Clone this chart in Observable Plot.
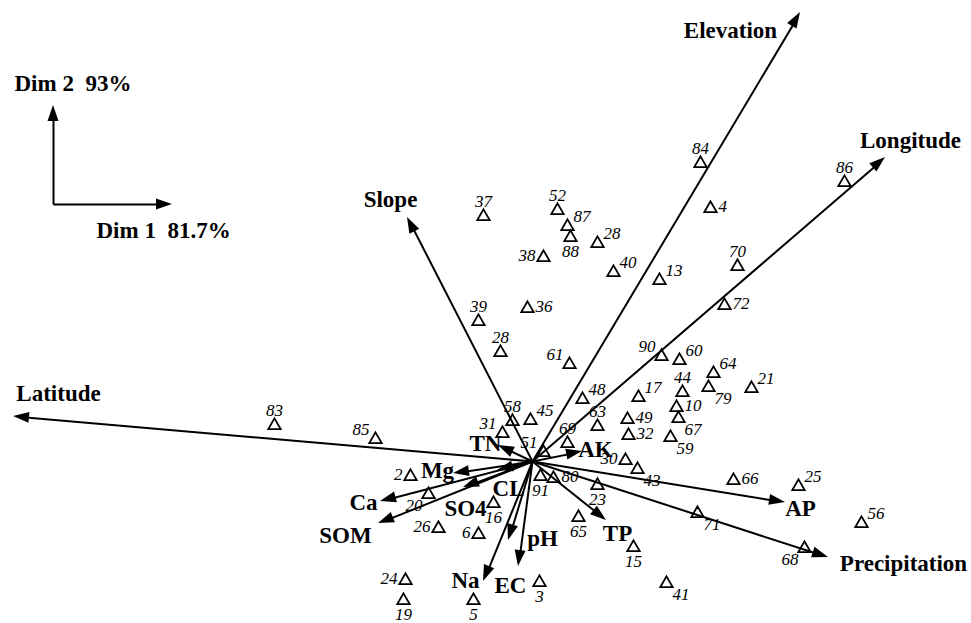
<!DOCTYPE html>
<html><head><meta charset="utf-8">
<script src="https://cdn.jsdelivr.net/npm/d3@7"></script>
<script src="https://cdn.jsdelivr.net/npm/@observablehq/plot@0.6"></script>
<style>body{margin:0;background:#fff} svg{display:block}</style>
</head><body><div id="chart"></div>
<script>
// Sample sites (scores on Dim 1 / Dim 2)
const siteIds  = ["84","4","52","87","88","28","38","40","13","70","72","36","90","60","61","64","79","21","44","17","48","10","49","67","63","32","59","69","45","58","31","51","30","43","80","91","23","66","25","56","71","68","65","15","41","3","5","19","24","26","6","16","20","2","85","83","37","39","28","86"];
const siteDim1 = [1.68,1.78,0.25,0.35,0.38,0.65,0.11,0.81,1.27,2.05,1.92,-0.05,1.29,1.47,0.37,1.81,1.76,2.19,1.50,1.06,0.50,1.44,0.95,1.46,0.65,0.96,1.38,0.35,-0.02,-0.20,-0.30,0.11,0.93,1.05,0.21,0.08,0.65,2.01,2.66,3.29,1.65,2.72,0.46,1.01,1.34,0.07,-0.59,-1.29,-1.27,-0.94,-0.54,-0.39,-1.04,-1.22,-1.57,-2.58,-0.49,-0.54,-0.32,3.12];
const siteDim2 = [2.98,2.53,2.51,2.35,2.24,2.18,2.04,1.89,1.81,1.95,1.56,1.53,1.05,1.01,0.97,0.88,0.74,0.73,0.69,0.64,0.62,0.54,0.42,0.43,0.35,0.26,0.24,0.18,0.41,0.40,0.28,0.09,0.01,-0.08,-0.17,-0.15,-0.24,-0.19,-0.25,-0.62,-0.52,-0.87,-0.56,-0.86,-1.22,-1.21,-1.39,-1.39,-1.19,-0.67,-0.73,-0.42,-0.33,-0.15,0.22,0.36,2.45,1.40,1.09,2.79];
// side of each site label relative to its triangle
const siteLabelSide = ["n","e","n","ne","s","ne","w","ne","ne","n","e","e","nw","ne","nw","ne","se","ne","n","ne","ne","e","e","se","n","e","se","n","ne","n","nw","nw","w","se","e","s","s","e","ne","ne","se","sw","s","s","se","s","s","s","w","w","w","s","sw","w","nw","n","n","n","n","n"];

// Explanatory variables (arrow tips)
const variables = ["Elevation","Longitude","Slope","Latitude","AP","Precipitation","TP","AK","TN","Mg","Ca","SOM","CL","SO4","pH","EC","Na"];
const varDim1 = [2.68,3.53,-1.25,-5.19,2.53,2.96,0.74,0.50,-0.34,-0.79,-1.52,-1.54,-0.35,-0.69,-0.24,-0.14,-0.49];
const varDim2 = [4.49,3.04,2.44,0.45,-0.41,-0.96,-0.59,0.10,0.16,-0.12,-0.40,-0.62,-0.09,-0.26,-0.79,-1.05,-1.20];
// label offsets (px) from arrow tip
const varLabelDx = [-70,25,-17,45,15,75,11,13,-13,-16,-17,-33,11,2,34,-8,-18];
const varLabelDy = [18,-17,-18,-23,6,6,13,-2,-2,-3,1,12,18,21,-2,19,-1];

const axisTitles = ["Dim 1\u00a0 81.7%", "Dim 2\u00a0 93%"];

const sites = siteIds.map((id, i) => ({id, x: siteDim1[i], y: siteDim2[i], side: siteLabelSide[i]}));
const vars = variables.map((name, i) => ({name, x0: 0, y0: 0, x1: varDim1[i], y1: varDim2[i], dx: varLabelDx[i], dy: varLabelDy[i]}));

// inset key for the dimension axes
const keyOrigin = {x: -4.79, y: 2.57};
const keyArrows = [
  {x0: keyOrigin.x, y0: keyOrigin.y, x1: -3.60, y1: keyOrigin.y},
  {x0: keyOrigin.x, y0: keyOrigin.y, x1: keyOrigin.x, y1: 3.56}
];
const keyTexts = [
  {t: axisTitles[0], x: -4.36, y: 2.31},
  {t: axisTitles[1], x: -5.18, y: 3.78}
];

const HL = 16, HW = 5.5;
function shorten(r) {
  const ux = r.x1 - r.x0, uy = r.y1 - r.y0, L = Math.hypot(ux, uy);
  const s = (L - HL * 0.6 / 100) / L;
  return {x0: r.x0, y0: r.y0, x1: r.x0 + ux * s, y1: r.y0 + uy * s};
}
function heads(rows) {
  return (index, scales) => {
    const g = d3.create("svg:g");
    for (const r of rows) {
      const x0 = scales.x(r.x0), y0 = scales.y(r.y0), x1 = scales.x(r.x1), y1 = scales.y(r.y1);
      const a = Math.atan2(y1 - y0, x1 - x0);
      const bx = x1 - HL * Math.cos(a), by = y1 - HL * Math.sin(a);
      const px = -Math.sin(a) * HW, py = Math.cos(a) * HW;
      g.append("path").attr("d", `M${x1},${y1}L${bx + px},${by + py}L${bx - px},${by - py}Z`).attr("fill", "black");
    }
    return g.node();
  };
}

const serif = "Liberation Serif, Times New Roman, serif";
const offsets = {
  n: {dx: 0, dy: -15, a: "middle"}, s: {dx: 0, dy: 14, a: "middle"},
  e: {dx: 8, dy: -2, a: "start"}, w: {dx: -8, dy: -2, a: "end"},
  ne: {dx: 6, dy: -10, a: "start"}, nw: {dx: -6, dy: -10, a: "end"},
  se: {dx: 6, dy: 11, a: "start"}, sw: {dx: -6, dy: 11, a: "end"}
};
const siteLabelMarks = Object.entries(offsets).map(([k, o]) =>
  Plot.text(sites.filter(d => d.side === k), {
    x: "x", y: "y", text: "id", dx: o.dx, dy: o.dy, textAnchor: o.a,
    fontFamily: serif, fontStyle: "italic", fontSize: 17, fill: "black"
  })
);

const chart = Plot.plot({
  width: 971, height: 623, margin: 0,
  x: {domain: [-5.32, 4.39], axis: null},
  y: {domain: [-1.62, 4.61], axis: null},
  style: {background: "white"},
  marks: [
    Plot.link(vars.map(shorten), {x1: "x0", y1: "y0", x2: "x1", y2: "y1", stroke: "black", strokeWidth: 2}),
    heads(vars),
    Plot.link(keyArrows.map(shorten), {x1: "x0", y1: "y0", x2: "x1", y2: "y1", stroke: "black", strokeWidth: 2}),
    heads(keyArrows),
    Plot.dot(sites, {x: "x", y: "y", symbol: "triangle", r: 4.6, stroke: "black", strokeWidth: 1.8, fill: "none"}),
    ...siteLabelMarks,
    Plot.text(vars, {x: d => d.x1 + d.dx / 100, y: d => d.y1 - d.dy / 100, text: "name",
      fontFamily: serif, fontWeight: "bold", fontSize: 23, fill: "black"}),
    Plot.text(keyTexts, {x: "x", y: "y", text: "t", textAnchor: "start",
      fontFamily: serif, fontWeight: "bold", fontSize: 23, fill: "black"})
  ]
});
document.getElementById("chart").append(chart);
</script>
</body></html>
